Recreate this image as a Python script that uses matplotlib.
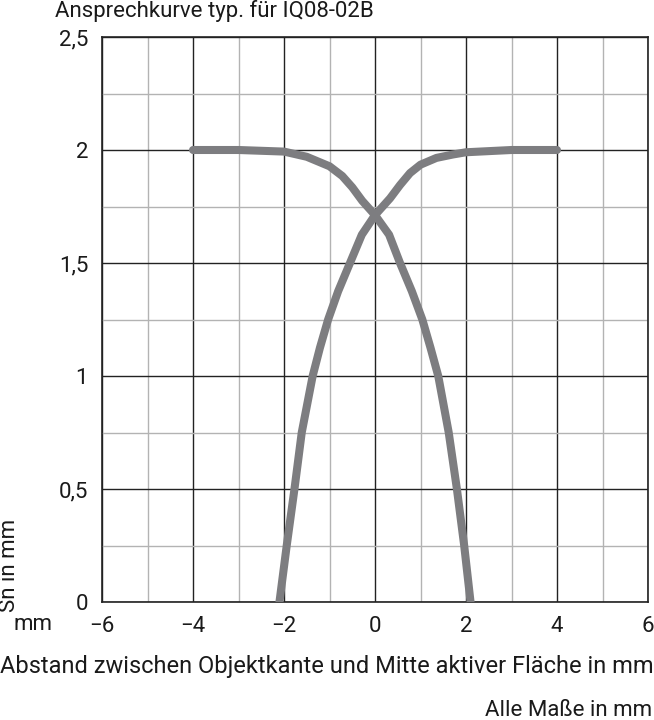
import matplotlib
matplotlib.use("Agg")
import matplotlib.pyplot as plt
from matplotlib.ticker import MultipleLocator, FuncFormatter

# Data
desc_x = [-4.0, -3.0, -2.0, -1.5, -1.0, -0.72, -0.5, -0.28, 0.0, 0.31, 0.55, 0.81, 1.04, 1.22, 1.39, 1.62, 1.80, 1.96, 2.10]
desc_y = [2.0, 2.0, 1.993, 1.97, 1.928, 1.885, 1.835, 1.775, 1.712, 1.625, 1.5, 1.375, 1.25, 1.125, 1.0, 0.75, 0.5, 0.25, 0.0]
asc_x = [-2.10, -1.94, -1.77, -1.61, -1.37, -1.21, -1.03, -0.81, -0.55, -0.29, 0.0, 0.33, 0.55, 0.77, 1.0, 1.35, 1.71, 2.0, 3.0, 4.0]
asc_y = [0.0, 0.25, 0.5, 0.75, 1.0, 1.125, 1.25, 1.375, 1.5, 1.625, 1.712, 1.786, 1.845, 1.898, 1.935, 1.965, 1.98, 1.99, 2.0, 2.0]

x_major = [-6, -4, -2, 0, 2, 4, 6]
y_major = [0, 0.5, 1, 1.5, 2, 2.5]

title = "Ansprechkurve typ. für IQ08-02B"
xlabel = "Abstand zwischen Objektkante und Mitte aktiver Fläche in mm"
ylabel = "Sn in mm"
note = "Alle Maße in mm"

plt.rcParams['font.family'] = ['Roboto', 'DejaVu Sans']
fig = plt.figure(figsize=(6.54, 7.2), dpi=100)
ax = fig.add_axes([102/654, 118/720, 546/654, 565/720])

ax.set_xlim(-6, 6)
ax.set_ylim(0, 2.5)
ax.set_xticks(x_major)
ax.set_yticks(y_major)
ax.xaxis.set_minor_locator(MultipleLocator(1))
ax.yaxis.set_minor_locator(MultipleLocator(0.25))
ax.grid(which='minor', color='#b3b3b3', linewidth=1.0)
ax.grid(which='major', color='#222222', linewidth=1.0)
ax.set_axisbelow(True)
for s in ax.spines.values():
    s.set_color('#222222')
    s.set_linewidth(1.2)

def fmt(v, pos):
    s = ('%g' % v).replace('.', ',')
    return s.replace('-', '\u2212')

ax.yaxis.set_major_formatter(FuncFormatter(fmt))
ax.xaxis.set_major_formatter(FuncFormatter(fmt))
ax.tick_params(which='both', length=0)
ax.tick_params(axis='x', labelsize=16, pad=10, colors='#1a1a1a')
ax.tick_params(axis='y', labelsize=16, pad=10, colors='#1a1a1a')

lc = '#7d7d80'
ax.plot(desc_x, desc_y, color=lc, linewidth=5.8, solid_capstyle='round', solid_joinstyle='round', zorder=3)
ax.plot(asc_x, asc_y, color=lc, linewidth=5.8, solid_capstyle='round', solid_joinstyle='round', zorder=3)

fig.text(55/654, 1 - 11/720, title, fontsize=16, ha='left', va='center', color='#1a1a1a')
fig.text(0/654, 1 - 667/720, xlabel, fontsize=17, ha='left', va='center', color='#1a1a1a')
fig.text(1 - 2/654, 1 - 710/720, note, fontsize=16, ha='right', va='center', color='#1a1a1a')
fig.text(10/654, 1 - 565/720, ylabel, fontsize=16, ha='center', va='center', rotation=90, color='#1a1a1a')
fig.text(33/654, 1 - 625/720, "mm", fontsize=16, ha='center', va='center', color='#1a1a1a')

fig.savefig("out.png", dpi=100)
